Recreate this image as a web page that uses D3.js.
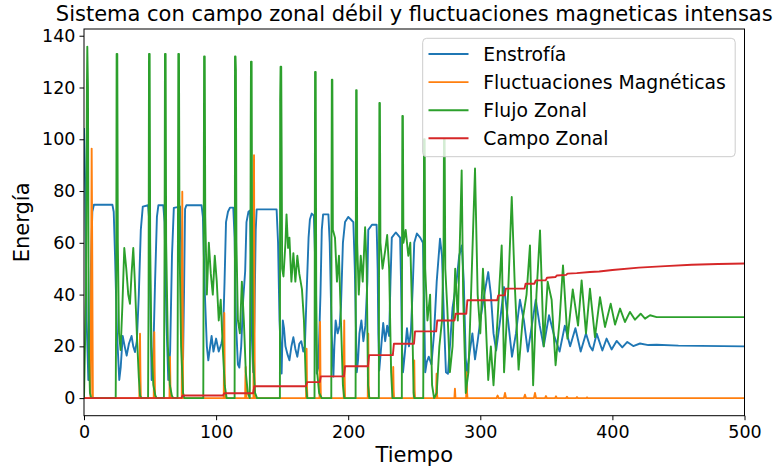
<!DOCTYPE html>
<html><head><meta charset="utf-8">
<script src="https://cdn.jsdelivr.net/npm/d3@7"></script>
<style>body{margin:0;background:#fff}svg{display:block}text{font-family:"DejaVu Sans",sans-serif}</style>
</head><body><svg id="c" width="780" height="472"></svg>
<script>
const titleText = "Sistema con campo zonal débil y fluctuaciones magneticas intensas";
const xLabel = "Tiempo", yLabel = "Energía";
const xTicks = [0,100,200,300,400,500];
const yTicks = [0,20,40,60,80,100,120,140];
const seriesNames = ["Enstrofía","Fluctuaciones Magnéticas","Flujo Zonal","Campo Zonal"];
const seriesColors = ["#1f77b4","#ff7f0e","#2ca02c","#d62728"];

const enstrofia = [[0,104],[1,80],[2,30],[3.3,7],[4.2,15],[5.2,50],[6.3,72],[7.5,74.7],[21.5,74.7],[22.5,72],[23.5,55],[25,25],[26.7,7],[27.8,12],[29.3,24],[30.8,20],[32.3,16.4],[34,21],[36,24],[37.3,20],[38.6,17.8],[40,22],[41.5,40],[43,65],[44.5,74],[48.5,74.5],[49.5,68],[50.4,30],[51.2,7],[52.3,14],[53.8,45],[55.2,70],[56.3,74.5],[60,74.5],[61,68],[62.4,30],[63.8,7],[65.2,18],[66.6,55],[68,73.5],[72.7,74],[73.5,60],[74.2,30],[75,15],[75.7,40],[76.5,73],[77.5,74.5],[89,74.5],[90,70],[91.5,40],[93,20],[94.1,14.6],[95.5,20],[96.6,24],[98,18],[100,23],[102,18],[104,21],[105.2,24],[106.4,45],[107.5,68],[109,72],[110.5,73.6],[113,73.6],[114,62],[115,30],[116.5,13],[117.6,11.8],[119,20],[120.5,38],[122,49],[123,68],[124.5,72],[125.7,72.5],[126.5,52],[127.2,22],[128,10],[129,30],[130,65],[130.7,72.9],[145.8,72.9],[146.9,60],[148,30],[149.6,9.5],[150.5,30],[151.4,27],[152.5,20],[154,17],[155.5,14.6],[157,20],[158.5,23.5],[160,19],[161.5,16],[163,21],[164.5,22],[166,18],[167.2,20],[168.5,40],[170,62],[171,69],[172.4,71.3],[174,70.5],[174.9,55],[175.5,25],[176.2,9.5],[177.4,12],[179,40],[180,65],[181,71],[185,71],[186,60],[187.5,25],[188.8,8.3],[189.5,20],[190.5,30],[192,25],[193.5,28],[194.5,35],[196,60],[197.6,68],[200,70],[202,69],[203.9,68],[205,50],[206.5,10],[207.5,15],[208.5,25],[210,30],[211.5,22],[213,28],[214.5,45],[215.2,65],[218,67],[221.5,67],[222.3,50],[222.8,25],[223.5,10.7],[225,20],[226.5,29],[228,22],[229.5,28],[231,24],[232,45],[233,62],[236,64],[239.3,62],[240,45],[240.7,20],[241.5,10],[243,18],[244.5,27],[246,20],[247.5,26],[249,45],[250,60],[252,63.6],[254.5,62],[256.6,60],[257.5,35],[258.3,10],[259.5,14],[261,16],[263,13],[265,25],[267,45],[269.5,61.6],[271,55],[272.5,30],[274,10],[275.5,9.4],[277,20],[279,35],[282,45],[284,55],[286,59],[287.5,45],[289,15],[290,10],[292,18],[294,25],[296,15],[298,22],[300,30],[303,40],[306,48.7],[308,40],[310,25],[312,18.4],[315,30],[318,42.9],[321,30],[324,16],[327,25],[330,38],[333,30],[336,18],[339,28],[342,38],[345,28],[348,20],[352,32],[356,24],[360,18],[364,28],[368,20],[372,27],[376,18],[380,25],[383,20],[385,18.4],[388.1,24.9],[392.4,18.4],[395.6,23],[399.4,18.8],[403.2,22.1],[407.5,19.6],[411.3,21.7],[415.8,20.1],[420.9,21.1],[427.2,20.5],[433.5,20.6],[450,20.3],[500,20]];

const fluctuaciones = [[0,0],[5,0],[5.5,60],[5.8,96.4],[6.2,60],[6.7,0],[41.9,0],[42.2,15],[42.4,24.9],[42.7,10],[43,0],[52.8,0],[53,15],[53.2,25.5],[53.5,10],[53.8,0],[64.7,0],[64.9,10],[65.1,15.9],[65.4,5],[65.7,0],[74,0],[74.2,50],[74.4,79.7],[74.7,40],[75,0],[105.8,0],[106,20],[106.2,32.9],[106.5,10],[106.8,0],[122,0],[122.2,8],[122.4,12],[122.7,3],[123,0],[128.3,0],[128.5,82],[128.7,93.8],[129,40],[129.3,0],[168.1,0],[168.3,10],[168.5,19.1],[168.8,5],[169.1,0],[178.3,0],[178.5,20],[178.7,29.4],[179,8],[179.3,0],[196.6,0],[196.8,20],[197,30],[197.3,8],[197.6,0],[214.8,0],[215,15],[215.2,24.9],[215.5,5],[215.8,0],[233.7,0],[233.9,8],[234.1,12],[234.4,3],[234.7,0],[249.6,0],[249.8,8],[250,14.6],[250.3,3],[250.6,0],[266.5,0],[266.7,5],[266.9,9.4],[267.2,2],[267.5,0],[280.4,0],[280.8,3.6],[281.2,0],[289.3,0],[289.5,6],[289.7,10],[290,2],[290.3,0],[312.3,0],[313.1,1],[313.9,0],[317.9,0],[318.7,2],[319.5,0],[333,0],[333.8,1.3],[334.6,0],[340.6,0],[341.4,2],[342.2,0],[349,0],[349.7,0.8],[350.4,0],[356.6,0],[357.3,0.7],[358,0],[364.9,0],[365.6,0.5],[366.3,0],[372.5,0],[373.2,0.4],[373.9,0],[380.2,0],[380.8,0.3],[381.4,0],[500,0]];

const flujo = [[0,0],[1.5,40],[2.2,120],[2.5,135.8],[3,120],[3.6,20],[4.5,2],[5.5,0],[24,0],[24.4,40],[24.7,133],[25.2,133],[25.6,60],[26.5,25],[27.7,18.6],[29,35],[30.5,58],[32,50],[33.5,40],[34.8,36.4],[36,48],[37.3,58],[38.5,45],[40,25],[41.5,8],[42.4,1],[43.5,0],[48.5,0],[48.9,40],[49.2,133],[49.7,133],[50.1,60],[51,20],[52.5,5],[54,1],[55,0],[60.5,0],[61,60],[61.3,133],[61.8,133],[62.2,60],[63.5,20],[65,5],[66.5,1],[67.5,0],[70.8,0],[71.1,60],[71.4,133],[71.9,133],[72.3,60],[73.5,20],[75,2],[76,0],[90.3,0],[90.6,60],[90.9,132],[91.4,132],[91.8,70],[93,40],[94.5,60],[96,48],[97.5,40],[99,55],[100.5,45],[102,30],[103.5,38],[105,20],[106.5,5],[108,0],[114,0],[114.2,50],[114.3,132],[114.7,132],[115,126.7],[115.4,60],[116.5,30],[118,25],[119.5,45],[121,30],[122.5,10],[124,2],[125.5,0],[126,60],[126.2,105],[126.4,130],[126.9,130],[127.2,70],[128,15],[129.5,2],[131,0],[148.3,0],[148.5,115],[148.8,128],[149.3,128],[149.6,97],[150,50],[151,47],[152.5,60],[153.3,71],[154.5,58],[155.5,62],[157,45],[158.5,56],[160,45],[161.5,55],[163,48],[165,42],[166.5,30],[168,5],[169,0],[174.5,0],[174.7,60],[174.9,126],[175.4,126],[175.8,40],[176.5,10],[178,2],[180,0],[187.2,0],[187.4,80],[187.6,123],[188,123],[188.4,65],[190,62],[191.5,45],[193,55],[194.5,30],[196,5],[197,0],[205.6,0],[205.8,70],[206,119],[206.4,119],[206.8,60],[208,40],[209.5,55],[211,45],[212.8,66],[214,50],[215,5],[216,0],[223.2,0],[223.4,70],[223.6,114],[224,114],[224.4,60],[226,50],[228,57],[229.5,63],[231,50],[232.5,10],[233.5,0],[240.6,0],[240.8,70],[241,109],[241.4,109],[241.8,60],[243.5,65],[245.5,55],[247,60],[248.5,30],[249.5,2],[250,0],[256.8,0],[257.2,60],[257.4,100],[257.9,100],[258.3,50],[260,30],[262,40],[263.5,5],[265,0],[267,2],[269,20],[271,30],[272.2,60],[272.5,100],[273,100],[273.5,50],[275,35],[277,10],[279,20],[281,50],[283,30],[285.9,88],[287,40],[289,2],[291,10],[293,40],[296,88.7],[298,40],[300,25],[302,50],[304,31],[306,7],[308,20],[310,5],[313,30],[316.2,59],[318,10],[321,40],[323.8,77.7],[326,45],[329,11],[332,30],[335,40],[337.6,59],[340,5],[342.5,40],[345.2,64.8],[348,20],[351,45],[354,38],[357,12.7],[360,30],[362.6,51.3],[366,23],[370,42],[374,28],[376.7,45.5],[380,25],[383,42.3],[386.8,23.6],[390.6,39],[394.4,27.5],[398.7,36.5],[402,28.4],[405.8,34.6],[409.5,29.4],[413.3,33.3],[417.1,30.3],[421.4,32.6],[424.7,30.7],[428.5,32],[433.5,31.3],[500,31.3]];

const campo = [[0,0],[73.8,0.1],[74.6,1],[105,1],[106.4,1.9],[128,1.9],[129,4.6],[168,4.6],[169,6.2],[178.5,6.2],[179.3,8.4],[196.8,8.4],[197.6,12.3],[215,12.3],[215.8,16.6],[233.8,16.6],[234.6,21],[249.8,21],[250.6,25.8],[266.6,25.8],[267.4,30],[280.5,30],[281.3,32.6],[289.4,32.6],[290.2,37.8],[312.8,37.8],[313.6,39.7],[318.5,39.7],[319.3,42.3],[333.5,42.3],[334.3,44.2],[341,44.2],[342,45.5],[349.5,45.5],[350.5,46.5],[357,46.8],[358,47.4],[365,47.6],[366,48.1],[373,48.3],[383,48.7],[390,48.9],[400,49.5],[420,50.4],[440,51.0],[460,51.5],[480,51.8],[500,52.0]];

const allSeries = [enstrofia, fluctuaciones, flujo, campo];

const svg = d3.select("#c");
const L = 84, R = 744.5, T = 29, B = 415.7;
const x = d3.scaleLinear().domain([0,500]).range([L,R]);
const y = d3.scaleLinear().domain([-6.79,142.6]).range([B,T]);

const defs = svg.append("defs");
defs.append("clipPath").attr("id","clip").append("rect").attr("x",L).attr("y",T).attr("width",R-L).attr("height",B-T);

const line = d3.line().x(d=>x(d[0])).y(d=>y(d[1]));
const g = svg.append("g").attr("clip-path","url(#clip)");
allSeries.forEach((s,i)=>{
  g.append("path").datum(s).attr("d",line).attr("fill","none")
   .attr("stroke",seriesColors[i]).attr("stroke-width",1.9).attr("stroke-linejoin","round").attr("stroke-linecap","square");
});

const xAxis = svg.append("g").attr("transform",`translate(0,${B})`)
  .call(d3.axisBottom(x).tickValues(xTicks).tickSize(4.5).tickPadding(5).tickFormat(d3.format("d")));
const yAxis = svg.append("g").attr("transform",`translate(${L},0)`)
  .call(d3.axisLeft(y).tickValues(yTicks).tickSize(4.5).tickPadding(4).tickFormat(d3.format("d")));
[xAxis,yAxis].forEach(a=>{
  a.select(".domain").remove();
  a.selectAll("line").attr("stroke","#000").attr("stroke-width",1);
  a.selectAll("text").attr("font-size",17.5).attr("fill","#000").attr("font-family","DejaVu Sans");
});
svg.append("rect").attr("x",L).attr("y",T).attr("width",R-L).attr("height",B-T)
  .attr("fill","none").attr("stroke","#000").attr("stroke-width",1);

svg.append("text").attr("x",(L+R)/2).attr("y",20.5).attr("text-anchor","middle").attr("font-size",21).text(titleText);
svg.append("text").attr("x",(L+R)/2).attr("y",462).attr("text-anchor","middle").attr("font-size",21).text(xLabel);
svg.append("text").attr("transform",`translate(29,${(T+B)/2}) rotate(-90)`).attr("text-anchor","middle").attr("font-size",21).text(yLabel);

const lg = svg.append("g");
lg.append("rect").attr("x",422.7).attr("y",38.3).attr("width",312.5).attr("height",118.4).attr("rx",4)
  .attr("fill","#fff").attr("fill-opacity",0.8).attr("stroke","#cccccc").attr("stroke-width",1);
seriesNames.forEach((n,i)=>{
  const yy = 54 + i*28.1;
  lg.append("line").attr("x1",428.5).attr("x2",468.5).attr("y1",yy).attr("y2",yy).attr("stroke",seriesColors[i]).attr("stroke-width",1.9);
  lg.append("text").attr("x",483.3).attr("y",yy+6.6).attr("font-size",18.8).text(n);
});
</script></body></html>
